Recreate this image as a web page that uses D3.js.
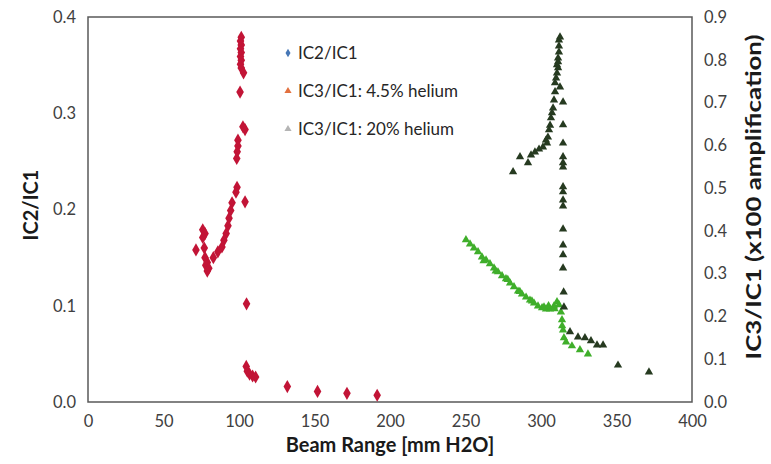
<!DOCTYPE html>
<html>
<head>
<meta charset="utf-8">
<script src="https://cdn.jsdelivr.net/npm/d3@7"></script>
<style>
  body { margin: 0; background: #fff; }
  text { font-family: Lato, "Open Sans", sans-serif; }
</style>
</head>
<body>
<svg id="chart" width="771" height="464"></svg>
<script>
// tick values
let xTicks = [0, 50, 100, 150, 200, 250, 300, 350, 400];
let yLeftTicks = [0, 0.1, 0.2, 0.3, 0.4];
let yRightTicks = [0, 0.1, 0.2, 0.3, 0.4, 0.5, 0.6, 0.7, 0.8, 0.9];

let legendLabels = ['IC2/IC1', 'IC3/IC1: 4.5% helium', 'IC3/IC1: 20% helium'];

// IC2/IC1  [beam range, ratio]
let ic2 = [
  [101.5, 0.379], [101, 0.375], [101.5, 0.371], [101, 0.367], [101.5, 0.363],
  [101, 0.359], [101.5, 0.355], [101, 0.351], [101.5, 0.347], [103, 0.342],
  [100.7, 0.322], [102.6, 0.286], [104, 0.283], [99.3, 0.272], [99.3, 0.266],
  [98.8, 0.260], [98.5, 0.253], [98.7, 0.223], [98, 0.218], [104, 0.208],
  [95.4, 0.207], [94.5, 0.199], [93.4, 0.191], [92.7, 0.183], [91.5, 0.175],
  [90, 0.168], [88.7, 0.161], [86, 0.156], [83, 0.150], [79, 0.145],
  [76, 0.179], [77.5, 0.175], [76, 0.171], [71.5, 0.158], [77, 0.160],
  [77.5, 0.150], [78, 0.142], [80, 0.139], [79, 0.136],
  [105, 0.102], [104.8, 0.037], [105.5, 0.032], [107, 0.029], [109, 0.027],
  [111, 0.026], [132, 0.016], [152, 0.011], [171.5, 0.009], [191.5, 0.007]
];

// IC3/IC1 4.5% helium (x100)
let ic3a = [
  [281.5, 0.538], [286.1, 0.573], [291.4, 0.559], [293.4, 0.577], [296.0, 0.584],
  [298.7, 0.591], [301.3, 0.596], [303.3, 0.612], [304.6, 0.619], [304.0, 0.605],
  [305.3, 0.636], [306.0, 0.647], [306.6, 0.664], [307.3, 0.676], [308.0, 0.687],
  [308.6, 0.706], [309.3, 0.725], [309.3, 0.746], [312.6, 0.736], [310.0, 0.757],
  [310.6, 0.769], [311.3, 0.781], [310.6, 0.788], [311.3, 0.795], [311.3, 0.804],
  [311.9, 0.818], [311.9, 0.832], [311.9, 0.846], [312.6, 0.853],
  [314.6, 0.701], [314.6, 0.648], [314.6, 0.605], [314.6, 0.573], [314.6, 0.559],
  [314.6, 0.549], [314.6, 0.503], [314.6, 0.491], [314.6, 0.472], [314.6, 0.458],
  [314.6, 0.404], [314.6, 0.367], [314.6, 0.344], [314.6, 0.313], [315, 0.257],
  [315.2, 0.222], [319.2, 0.164], [324.5, 0.152], [329.1, 0.150], [333.1, 0.143],
  [337.1, 0.133], [341.1, 0.133], [351.0, 0.086], [371.5, 0.070]
];

// IC3/IC1 20% helium (x100)
let ic3b = [
  [250.3, 0.379], [253.0, 0.369], [255.6, 0.360], [258.3, 0.351], [260.9, 0.339],
  [263.6, 0.332], [266.2, 0.323], [268.9, 0.313], [271.5, 0.304], [274.2, 0.295],
  [276.8, 0.288], [279.5, 0.278], [282.1, 0.269], [284.8, 0.259], [287.4, 0.252],
  [290.1, 0.245], [292.7, 0.238], [295.4, 0.231], [298.0, 0.224], [300.7, 0.220],
  [303.3, 0.217], [306.0, 0.217], [308.6, 0.224], [310.6, 0.234], [311.9, 0.227],
  [313.2, 0.210], [313.9, 0.192], [314.6, 0.168], [315.2, 0.150], [316.6, 0.140],
  [320.5, 0.131], [325.8, 0.122], [331.1, 0.112],
  [262, 0.330], [270, 0.306], [278, 0.286], [286, 0.258], [294, 0.236],
  [302, 0.222], [305, 0.225], [309, 0.218], [314, 0.178]
];

let svg = d3.select('#chart');
let m = { left: 88, right: 692, top: 17, bottom: 402 };

let x = d3.scaleLinear().domain([0, 400]).range([m.left, m.right]);
let yL = d3.scaleLinear().domain([0, 0.4]).range([m.bottom, m.top]);
let yR = d3.scaleLinear().domain([0, 0.9]).range([m.bottom, m.top]);

// axes (no tick marks, just labels)
let gx = svg.append('g')
  .attr('transform', 'translate(0,' + m.bottom + ')')
  .call(d3.axisBottom(x).tickValues(xTicks).tickSize(0).tickPadding(13).tickFormat(d3.format('d')));
let gl = svg.append('g')
  .attr('transform', 'translate(' + m.left + ',0)')
  .call(d3.axisLeft(yL).tickValues(yLeftTicks).tickSize(0).tickPadding(12).tickFormat(d3.format('.1f')));
let gr = svg.append('g')
  .attr('transform', 'translate(' + m.right + ',0)')
  .call(d3.axisRight(yR).tickValues(yRightTicks).tickSize(0).tickPadding(12).tickFormat(d3.format('.1f')));

[gx, gl, gr].forEach(function(g) {
  g.select('.domain').remove();
  g.selectAll('text')
    .style('font-size', '16.5px')
    .style('font-family', 'Lato, sans-serif')
    .attr('fill', '#404040');
});

// frame
svg.append('rect')
  .attr('x', m.left).attr('y', m.top)
  .attr('width', m.right - m.left).attr('height', m.bottom - m.top)
  .attr('fill', 'none')
  .attr('stroke', '#595959')
  .attr('stroke-width', 1.5);

// axis titles
svg.append('text')
  .attr('x', x(200)).attr('y', 452)
  .attr('text-anchor', 'middle')
  .style('font-size', '20px').style('font-weight', 'bold')
  .attr('fill', '#1a1a1a')
  .text('Beam Range [mm H2O]');

svg.append('text')
  .attr('transform', 'translate(38,205) rotate(-90)')
  .attr('text-anchor', 'middle')
  .style('font-size', '20px').style('font-weight', 'bold')
  .attr('fill', '#1a1a1a')
  .text('IC2/IC1');

svg.append('text')
  .attr('transform', 'translate(761,197) rotate(-90)')
  .attr('text-anchor', 'middle')
  .attr('textLength', 325)
  .attr('lengthAdjust', 'spacingAndGlyphs')
  .style('font-size', '20px').style('font-weight', 'bold')
  .attr('fill', '#1a1a1a')
  .text('IC3/IC1 (x100 amplification)');

// points
let diamond = d3.symbol().type(d3.symbolDiamond).size(50);
let triangle = d3.symbol().type(d3.symbolTriangle).size(30);

svg.append('g').selectAll('path')
  .data(ic3b).enter()
  .append('path')
  .attr('d', triangle)
  .attr('transform', function(d) { return 'translate(' + x(d[0]) + ',' + yR(d[1]) + ')'; })
  .attr('fill', '#3fae2a');

svg.append('g').selectAll('path')
  .data(ic3a).enter()
  .append('path')
  .attr('d', triangle)
  .attr('transform', function(d) { return 'translate(' + x(d[0]) + ',' + yR(d[1]) + ')'; })
  .attr('fill', '#263a20');

svg.append('g').selectAll('path')
  .data(ic2).enter()
  .append('path')
  .attr('d', diamond)
  .attr('transform', function(d) { return 'translate(' + x(d[0]) + ',' + yL(d[1]) + ')'; })
  .attr('fill', '#c21436');

// legend
let legendColors = ['#4677b6', '#e2703e', '#b4b4b4'];
let legendShapes = [d3.symbolDiamond, d3.symbolTriangle, d3.symbolTriangle];
let lg = svg.append('g').attr('transform', 'translate(288,53)');
legendLabels.forEach(function(lab, i) {
  let row = lg.append('g').attr('transform', 'translate(0,' + (i * 38) + ')');
  row.append('path')
    .attr('d', d3.symbol().type(legendShapes[i]).size(22))
    .attr('fill', legendColors[i]);
  row.append('text')
    .attr('x', 10).attr('dy', '0.35em')
    .style('font-size', '17px')
    .attr('fill', '#262626')
    .text(lab);
});
</script>
</body>
</html>
